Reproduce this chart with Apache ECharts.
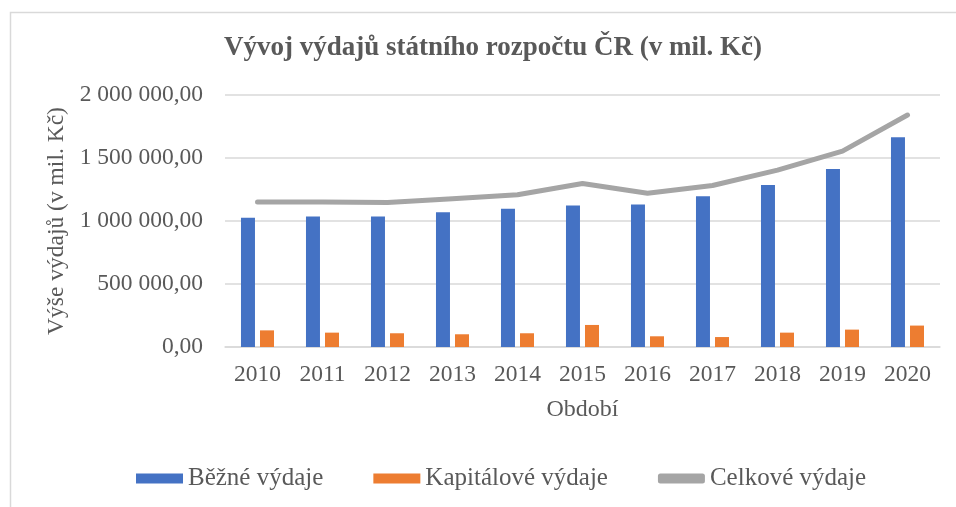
<!DOCTYPE html>
<html>
<head>
<meta charset="utf-8">
<script src="https://cdn.jsdelivr.net/npm/echarts@6/dist/echarts.min.js"></script>
<style>
  html, body { margin: 0; padding: 0; background: #fff; }
  #main { width: 956px; height: 507px; }
</style>
</head>
<body>
<div id="main"></div>
<script>
// data
var years = ['2010', '2011', '2012', '2013', '2014', '2015', '2016', '2017', '2018', '2019', '2020'];
var bezne = [1025000, 1036000, 1036000, 1070000, 1097000, 1123000, 1131000, 1197000, 1285000, 1412000, 1664000];
var kapitalove = [132000, 114000, 109000, 101000, 109000, 175000, 85000, 79000, 114000, 138000, 170000];
var celkove = [1150000, 1150000, 1147000, 1176000, 1208000, 1298000, 1221000, 1282000, 1404000, 1555000, 1841000];

var textColor = '#595959';
var font = '"Liberation Serif", "Times New Roman", serif';

// 2 000 000,00
function czNumber(v) {
    var parts = v.toFixed(2).split('.');
    return parts[0].replace(/\B(?=(\d{3})+(?!\d))/g, ' ') + ',' + parts[1];
}

var myChart = echarts.init(document.getElementById('main'));

var option = {
    backgroundColor: '#fff',
    animation: false,
    textStyle: { fontFamily: font, color: textColor },
    graphic: [{
        type: 'rect',
        shape: { x: 10.5, y: 12.5, width: 1000, height: 600 },
        style: { fill: 'none', stroke: '#d9d9d9', lineWidth: 1.5 },
        silent: true
    }],
    title: {
        text: 'Vývoj výdajů státního rozpočtu ČR (v mil. Kč)',
        left: 488,
        top: 30,
        textAlign: 'center',
        textStyle: { fontFamily: font, fontSize: 27, fontWeight: 'bold', color: textColor }
    },
    legend: {
        top: 461,
        left: 131,
        itemWidth: 47,
        itemHeight: 10,
        itemGap: 50,
        textStyle: { fontFamily: font, fontSize: 25, color: textColor },
        data: [
            { name: 'Běžné výdaje', icon: 'rect' },
            { name: 'Kapitálové výdaje', icon: 'rect' },
            { name: 'Celkové výdaje', icon: 'roundRect' }
        ]
    },
    grid: { left: 225, right: 16, top: 95, bottom: 160 },
    xAxis: {
        type: 'category',
        data: years,
        name: 'Období',
        nameLocation: 'middle',
        nameGap: 51,
        nameTextStyle: { fontFamily: font, fontSize: 24, color: textColor },
        axisLine: { lineStyle: { color: '#d9d9d9', width: 1.5 } },
        axisTick: { show: false },
        axisLabel: { fontFamily: font, fontSize: 23.5, color: textColor, margin: 16 }
    },
    yAxis: {
        type: 'value',
        min: 0,
        max: 2000000,
        interval: 500000,
        name: 'Výše výdajů (v mil. Kč)',
        nameLocation: 'middle',
        nameGap: 155,
        nameTextStyle: { fontFamily: font, fontSize: 23.5, color: textColor },
        axisLine: { show: false },
        axisTick: { show: false },
        axisLabel: {
            fontFamily: font, fontSize: 23.5, color: textColor, margin: 22,
            formatter: function (v) { return czNumber(v); }
        },
        splitLine: { lineStyle: { color: '#d9d9d9', width: 1.5 } }
    },
    series: [
        {
            name: 'Běžné výdaje',
            type: 'bar',
            data: bezne,
            barWidth: 14,
            barGap: '36%',
            itemStyle: { color: '#4472c4' }
        },
        {
            name: 'Kapitálové výdaje',
            type: 'bar',
            data: kapitalove,
            barWidth: 14,
            itemStyle: { color: '#ed7d31' }
        },
        {
            name: 'Celkové výdaje',
            type: 'line',
            data: celkove,
            symbol: 'none',
            itemStyle: { color: '#a5a5a5' },
            lineStyle: { color: '#a5a5a5', width: 5, cap: 'round', join: 'round' }
        }
    ]
};

myChart.setOption(option);
</script>
</body>
</html>
